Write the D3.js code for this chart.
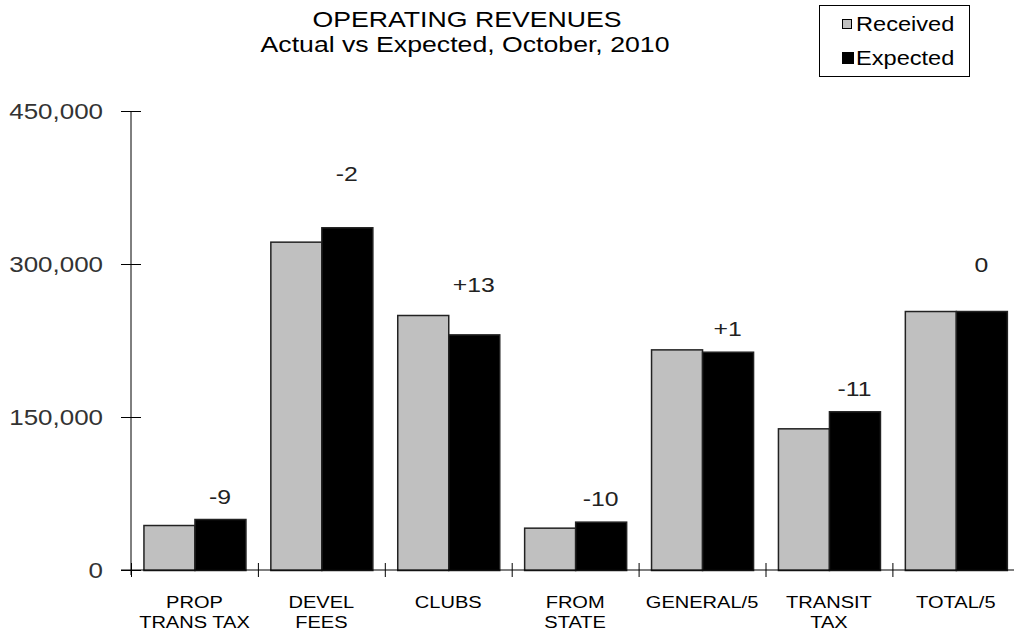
<!DOCTYPE html>
<html>
<head>
<meta charset="utf-8">
<script src="https://cdn.jsdelivr.net/npm/d3@7"></script>
<style>
  body { margin: 0; background: #fff; }
  svg { display: block; overflow: hidden; }
  text { font-family: Arial, "Liberation Sans", sans-serif; }
</style>
</head>
<body>
<div id="chart"></div>
<script>
// data
var categories = ["PROP\nTRANS TAX", "DEVEL\nFEES", "CLUBS", "FROM\nSTATE", "GENERAL/5", "TRANSIT\nTAX", "TOTAL/5"];
var series = ["Received", "Expected"];
var received = [44100, 321900, 250000, 41500, 216300, 138900, 253900];
var expected = [50000, 336000, 231000, 47400, 214000, 155600, 253900];
// percent difference labels and the height they sit at
var diffLabels = ["-9", "-2", "+13", "-10", "+1", "-11", "0"];
var diffLabelAt = [71600, 388200, 279400, 69600, 236300, 177500, 299000];
var yTicks = [0, 150000, 300000, 450000];

var colors = {Received: "#c0c0c0", Expected: "#000000"};
var SX = 1.18; // the original text is a bit stretched horizontally

var W = 1014, H = 635;
var svg = d3.select("#chart")
  .append("svg")
	.attr("width", W)
	.attr("height", H);

// scales
var x = d3.scaleBand()
	.domain(d3.range(categories.length))
	.range([131, 131 + 126.9 * categories.length])
	.padding(0);
var xs = d3.scaleBand()
	.domain(series)
	.range([0, x.bandwidth()])
	.paddingInner(0)
	.paddingOuter(0.244);
var y = d3.scaleLinear()
	.domain([0, 450000])
	.range([570, 111]);

function stretchedText(g, px, py, str, size, anchor, fill) {
	return g.append("text")
		.attr("transform", "translate(" + px + "," + py + ") scale(" + SX + ",1)")
		.attr("text-anchor", anchor)
		.style("font-size", size + "px")
		.style("fill", fill)
		.text(str);
}

// title
stretchedText(svg, 467, 27, "OPERATING REVENUES", 22.6, "middle", "#000");
stretchedText(svg, 465, 52, "Actual vs Expected, October, 2010", 22.6, "middle", "#000");

// Y axis
var yAxis = svg.append("g")
	.attr("transform", "translate(131,0)")
	.call(d3.axisLeft(y).tickValues(yTicks).tickFormat(d3.format(",")).tickSize(10).tickSizeOuter(0));
yAxis.select(".domain").attr("stroke", "#000").attr("d", "M0," + y(450000) + "V" + (y(0) + 5));
yAxis.selectAll(".tick line").attr("x2", 10).attr("x1", -10).attr("stroke", "#000");
yAxis.selectAll(".tick text")
	.attr("x", -28 / SX)
	.attr("dy", "0.36em")
	.attr("transform", "scale(" + SX + ",1)")
	.style("font-size", "22px")
	.style("font-family", "Arial, 'Liberation Sans', sans-serif")
	.style("fill", "#333");

// bars
var groups = svg.selectAll(".cat")
	.data(categories.map(function(c, i) {
		return {i: i, values: [
			{key: "Received", value: received[i]},
			{key: "Expected", value: expected[i]}]};
	}))
	.enter()
  .append("g")
	.attr("class", "cat")
	.attr("transform", function(d) { return "translate(" + x(d.i) + ",0)"; });

groups.selectAll("rect")
	.data(function(d) { return d.values; })
	.enter()
  .append("rect")
	.attr("x", function(d) { return xs(d.key) + 0.5; })
	.attr("y", function(d) { return y(d.value) + 0.5; })
	.attr("width", xs.bandwidth())
	.attr("height", function(d) { return y(0) - y(d.value); })
	.attr("fill", function(d) { return colors[d.key]; })
	.attr("stroke", "#222")
	.attr("stroke-width", 1.5);

// X axis: line plus ticks at category boundaries
var xEdge = d3.scaleLinear().domain([0, categories.length]).range(x.range());
var xAxis = svg.append("g")
	.attr("transform", "translate(0," + y(0) + ")")
	.call(d3.axisBottom(xEdge).tickValues(d3.range(0, categories.length)).tickFormat("").tickSize(7).tickSizeOuter(0));
xAxis.select(".domain").attr("stroke", "#000").attr("d", "M121,0H" + W);
xAxis.selectAll(".tick line").attr("y1", -7).attr("stroke", "#000");

// category labels
categories.forEach(function(c, i) {
	c.split("\n").forEach(function(line, k) {
		stretchedText(svg, x(i) + x.bandwidth() / 2, 608 + k * 20, line, 17, "middle", "#000");
	});
});

// difference labels above the pairs
diffLabels.forEach(function(t, i) {
	stretchedText(svg, x(i) + xs("Expected") + xs.bandwidth() / 2, y(diffLabelAt[i]) + 7, t, 21, "middle", "#222");
});

// legend
var legend = svg.append("g");
legend.append("rect")
	.attr("x", 819.5).attr("y", 5.5)
	.attr("width", 150).attr("height", 71)
	.attr("fill", "#fff")
	.attr("stroke", "#000");
series.forEach(function(s, k) {
	legend.append("rect")
		.attr("x", 842.5).attr("y", 19.5 + k * 33)
		.attr("width", k == 0 ? 9 : 11).attr("height", k == 0 ? 9 : 11)
		.attr("fill", colors[s])
		.attr("stroke", "#000");
	stretchedText(legend, 856, 31 + k * 34, s, 20, "start", "#000");
});
</script>
</body>
</html>
